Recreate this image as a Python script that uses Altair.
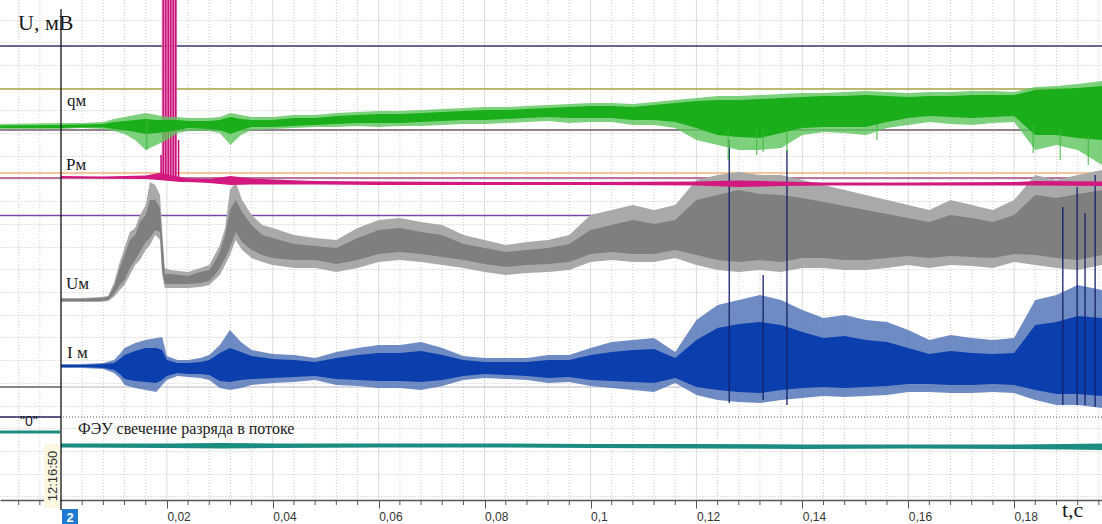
import altair as alt
import pandas as pd

# ---------------- data (t in s, U in arbitrary mV units) ----------------
green_t = [-0.0115, 0, 0.004, 0.008, 0.010, 0.012, 0.014, 0.016, 0.018, 0.020, 0.022, 0.024, 0.028, 0.030,
           0.032, 0.034, 0.036, 0.040, 0.044, 0.048, 0.052, 0.056, 0.060, 0.064, 0.068, 0.072, 0.076, 0.080,
           0.084, 0.088, 0.092, 0.096, 0.100, 0.104, 0.108, 0.112, 0.116, 0.120, 0.124, 0.128, 0.132, 0.136,
           0.140, 0.144, 0.148, 0.152, 0.156, 0.160, 0.164, 0.168, 0.172, 0.176, 0.180, 0.184, 0.188, 0.192, 0.1966]
green_hiO = [376, 377, 377, 378, 381, 383, 385, 387, 385, 383, 383, 382, 382, 383, 387, 385, 383, 383, 385, 385,
             387, 388, 389, 389, 390, 391, 392, 393, 393, 394, 395, 396, 397, 397, 396, 398, 400, 402, 404, 404,
             405, 406, 407, 407, 408, 409, 408, 407, 408, 408, 409, 409, 408, 413, 414, 416, 419]
green_loO = [371, 371, 372, 371, 369, 366, 360, 350, 355, 360, 367, 369, 369, 367, 355, 365, 370, 371, 372, 373,
             373, 374, 373, 374, 374, 375, 376, 376, 377, 378, 379, 377, 378, 378, 375, 375, 372, 360, 355, 350,
             350, 352, 365, 368, 367, 365, 372, 375, 378, 376, 375, 377, 378, 350, 355, 350, 335]
green_hiI = [374.5, 375, 375.5, 376, 378, 379, 380, 381, 380, 380, 380, 379, 379, 380, 383, 381, 380, 380, 382, 382,
             384, 385, 386, 386, 387, 388, 389, 390, 390, 391, 392, 393, 394, 394, 393, 395, 397, 399, 400, 400,
             401, 402, 403, 404, 404, 405, 404, 403, 404, 404, 405, 405, 405, 410, 411, 412, 414]
green_loI = [372, 372, 372.5, 372.5, 371, 370, 368, 366, 367, 368, 370, 372, 371, 370, 366, 370, 373, 373, 374, 375,
             376, 377, 377, 377, 378, 379, 380, 380, 381, 382, 383, 382, 382, 382, 380, 380, 378, 372, 365, 363,
             362, 367, 372, 373, 373, 373, 378, 382, 384, 383, 382, 383, 384, 365, 365, 362, 360]
green_spike_t = [0.0162, 0.126, 0.1314, 0.1326, 0.1371, 0.1541, 0.1836, 0.1887, 0.194]
green_spike_lo = [350, 340, 345, 348, 347, 360, 347, 340, 335]
green_spike_hi = [380, 370, 370, 370, 372, 375, 375, 370, 365]

mag_t = [0, 0.008, 0.016, 0.0185, 0.0225, 0.024, 0.028, 0.032, 0.036, 0.040, 0.048, 0.060, 0.080, 0.100,
         0.120, 0.128, 0.136, 0.144, 0.160, 0.180, 0.184, 0.1966]
mag_hi = [324, 323.5, 324.5, 327, 323, 321.5, 321, 324, 321.5, 320.5, 319, 318.5, 318, 318, 318.5, 319.5, 318.5, 317.5, 317.5, 318, 319, 318.5]
mag_lo = [322, 321.5, 321, 320, 318, 318, 317, 315, 315.5, 315.5, 315.5, 315, 315, 315, 314.5, 313, 314, 314.5, 314.5, 314.5, 314.5, 314]
burst_t = [0.01932, 0.01977, 0.02026, 0.02072, 0.02121, 0.02166, 0.0222, 0.0189]
burst_top = [500, 500, 500, 500, 500, 500, 360, 345]
burst_bot = [320, 320, 320, 320, 320, 320, 320, 320]
burst_span_t = [0.0190, 0.0219]
burst_span_u = [322, 500]

gray_t = [0, 0.004, 0.0074, 0.0089, 0.010, 0.0111, 0.012, 0.013, 0.014, 0.0149, 0.016, 0.0168, 0.0178, 0.0187,
          0.0191, 0.0196, 0.0206, 0.024, 0.0263, 0.028, 0.029, 0.030, 0.031, 0.0319, 0.033, 0.0342, 0.036, 0.038,
          0.040, 0.044, 0.048, 0.052, 0.056, 0.060, 0.064, 0.068, 0.072, 0.076, 0.080, 0.084, 0.088, 0.092, 0.096,
          0.100, 0.104, 0.108, 0.112, 0.116, 0.120, 0.124, 0.128, 0.132, 0.136, 0.140, 0.144, 0.148, 0.152, 0.156,
          0.160, 0.164, 0.168, 0.172, 0.176, 0.180, 0.184, 0.188, 0.192, 0.1966]
gray_hiO = [202, 202, 203, 204, 217, 238, 252, 268, 272, 285, 295, 318, 315, 305, 270, 232, 230, 228, 232, 235,
            245, 255, 272, 310, 318, 300, 285, 275, 272, 265, 262, 260, 272, 280, 282, 278, 275, 265, 260, 255,
            258, 260, 265, 285, 290, 295, 290, 295, 320, 325, 328, 325, 325, 320, 315, 310, 305, 300, 295, 290,
            300, 295, 290, 300, 325, 320, 325, 330]
gray_loO = [198, 198, 198, 199, 203, 210, 215, 225, 235, 240, 250, 255, 265, 260, 225, 212, 212, 212, 213, 215,
            220, 225, 235, 245, 260, 250, 242, 238, 235, 232, 232, 228, 232, 238, 240, 238, 235, 232, 228, 225,
            227, 228, 230, 238, 240, 238, 238, 242, 235, 230, 228, 230, 228, 232, 232, 230, 230, 232, 235, 232,
            235, 234, 232, 238, 235, 232, 230, 235]
gray_hiI = [201, 201, 202, 203, 213, 232, 245, 260, 265, 278, 285, 300, 300, 292, 262, 226, 226, 224, 228, 230,
            238, 248, 265, 290, 300, 288, 275, 265, 262, 256, 254, 252, 262, 270, 272, 268, 265, 256, 252, 248,
            250, 252, 256, 270, 275, 280, 276, 280, 300, 305, 310, 306, 305, 302, 298, 294, 290, 286, 282, 278,
            285, 282, 278, 285, 305, 302, 306, 310]
gray_loI = [199, 199, 199, 200, 206, 215, 220, 232, 240, 248, 258, 262, 270, 268, 230, 216, 216, 216, 217, 219,
            225, 232, 242, 252, 268, 258, 250, 245, 242, 240, 240, 236, 240, 246, 248, 246, 243, 240, 236, 233,
            235, 236, 238, 246, 248, 246, 246, 250, 245, 240, 238, 240, 238, 242, 242, 240, 240, 242, 244, 242,
            244, 243, 242, 246, 245, 242, 240, 245]

blue_t = [0, 0.004, 0.008, 0.010, 0.0111, 0.012, 0.014, 0.016, 0.018, 0.0191, 0.020, 0.022, 0.024, 0.0263, 0.028,
          0.030, 0.0319, 0.034, 0.036, 0.040, 0.044, 0.048, 0.052, 0.056, 0.060, 0.064, 0.068, 0.072, 0.076, 0.080,
          0.084, 0.088, 0.092, 0.096, 0.100, 0.104, 0.108, 0.112, 0.116, 0.120, 0.124, 0.128, 0.132, 0.136, 0.140,
          0.144, 0.148, 0.152, 0.156, 0.160, 0.164, 0.168, 0.172, 0.176, 0.180, 0.184, 0.188, 0.192, 0.1966]
blue_hiO = [136, 136, 137, 140, 146, 152, 157, 160, 162, 163, 144, 140, 140, 142, 145, 155, 170, 158, 150, 146,
            145, 142, 148, 152, 155, 155, 158, 152, 144, 142, 142, 142, 145, 145, 152, 158, 160, 162, 148, 180,
            195, 200, 205, 200, 190, 182, 185, 180, 178, 170, 160, 165, 162, 160, 162, 200, 205, 215, 210]
blue_loO = [132, 132, 131, 127, 122, 115, 112, 110, 108, 115, 120, 124, 123, 122, 120, 112, 110, 112, 115, 117,
            118, 120, 115, 114, 112, 112, 110, 114, 120, 122, 121, 120, 117, 118, 114, 112, 110, 108, 117, 105,
            100, 98, 97, 100, 102, 104, 103, 104, 105, 108, 108, 107, 107, 108, 107, 100, 95, 95, 92]
blue_hiI = [135, 135, 136, 137, 141, 145, 149, 152, 152, 150, 140, 137, 137, 138, 140, 147, 152, 148, 144, 141,
            140, 138, 142, 145, 147, 147, 149, 145, 140, 138, 138, 138, 140, 140, 145, 148, 150, 151, 142, 160,
            172, 176, 178, 175, 168, 162, 164, 160, 158, 152, 146, 149, 147, 146, 147, 175, 178, 184, 182]
blue_loI = [133, 133, 132, 130, 126, 121, 119, 118, 117, 120, 124, 127, 126, 126, 125, 119, 118, 120, 121, 122,
            123, 124, 121, 120, 119, 119, 118, 120, 124, 126, 125, 124, 122, 123, 120, 119, 118, 117, 122, 113,
            110, 108, 107, 110, 112, 113, 112, 113, 114, 116, 116, 115, 115, 116, 115, 110, 106, 106, 104]
blue_spike_t = [0.1262, 0.1371, 0.1326, 0.1892, 0.1919, 0.1934, 0.1953]
blue_spike_top = [360, 350, 225, 293, 313, 287, 325]
blue_spike_bot = [97, 95, 100, 95, 95, 95, 93]

teal_pre_t = [-0.0115, -0.0002]
teal_pre_hi = [69.5, 69.5]
teal_pre_lo = [66.5, 66.5]
teal_t = [0, 0.02, 0.03, 0.04, 0.06, 0.08, 0.10, 0.12, 0.14, 0.16, 0.18, 0.19, 0.1966]
teal_hi = [56.5, 56.5, 57, 56.5, 56.5, 56.5, 56, 56, 55.5, 55.5, 55.5, 56, 56.5]
teal_lo = [52.5, 52, 51.5, 52, 52.5, 52.5, 52, 51.5, 51, 51.5, 51, 50.5, 50]

ref_u = [454, 411, 370, 327, 322, 284.5]
ref_colors = ["#35356e", "#a9a445", "#6e5a68", "#f2b27e", "#a5457f", "#7d47a8"]

major_ticks = [0.02, 0.04, 0.06, 0.08, 0.10, 0.12, 0.14, 0.16, 0.18]
minor_ticks = [-0.008, -0.004, 0.004, 0.008, 0.012, 0.016, 0.024, 0.028, 0.032, 0.036, 0.044, 0.048, 0.052, 0.056,
               0.064, 0.068, 0.072, 0.076, 0.084, 0.088, 0.092, 0.096, 0.104, 0.108, 0.112, 0.116, 0.124, 0.128,
               0.132, 0.136, 0.144, 0.148, 0.152, 0.156, 0.164, 0.168, 0.172, 0.176, 0.184, 0.188, 0.192, 0.196]
hgrid_u = [480.4, 457.7, 435.0, 412.3, 389.6, 366.9, 344.2, 321.5, 298.8, 276.1, 253.4, 230.7, 208.0, 185.3,
           162.6, 139.9, 117.2, 94.5, 71.8, 49.1, 26.4, 3.7]

# ---------------- scales / encodings ----------------
T_MIN, T_MAX = -0.01152, 0.1966
W, H = 1102, 500
xs = alt.Scale(domain=[T_MIN, T_MAX], nice=False, zero=False)
ys = alt.Scale(domain=[0, 500], nice=False, zero=False)

x_axis = alt.Axis(values=major_ticks, title="", grid=False,
                  labelExpr="replace(format(datum.value, '.2~f'), '.', ',')",
                  labelAlign="left", labelBaseline="top", labelPadding=3, labelFont="Liberation Sans",
                  labelFontSize=12, labelColor="#333333", labelFlush=False, labelOverlap=False,
                  tickSize=8, tickColor="#555555", tickWidth=1, domainColor="#555555", domainWidth=1.5)
y_axis = alt.Axis(values=hgrid_u, title="", grid=True, labels=False, ticks=False, domain=False,
                  gridColor="#c4c4c4", gridDash=[1, 2], gridWidth=1)


def X(f):
    return alt.X(f, type="quantitative", scale=xs, axis=x_axis)


def Y(f):
    return alt.Y(f, type="quantitative", scale=ys, axis=y_axis)


def band(t, hi, lo, color, opacity=1.0):
    df = pd.DataFrame({"t": t, "hi": hi, "lo": lo})
    return alt.Chart(df).mark_area(color=color, opacity=opacity, interpolate="linear").encode(
        x=X("t"), y=Y("hi"), y2=alt.Y2("lo"))


def spikes(t, top, bot, color, width):
    df = pd.DataFrame({"t": t, "top": top, "bot": bot})
    return alt.Chart(df).mark_rule(color=color, strokeWidth=width).encode(
        x=X("t"), y=Y("top"), y2=alt.Y2("bot"))


def label(txt, x, y, size, font="Liberation Serif", color="#1a1a1a", **kw):
    return alt.Chart(pd.DataFrame({"s": [txt]})).mark_text(
        font=font, fontSize=size, color=color, **kw).encode(
        x=alt.value(x), y=alt.value(y), text="s:N")


def hline(u, color, width=1.3, dash=None, t0=None, t1=None):
    df = pd.DataFrame({"u": [u], "t0": [t0 if t0 is not None else T_MIN],
                       "t1": [t1 if t1 is not None else T_MAX]})
    kw = {"color": color, "strokeWidth": width}
    if dash is not None:
        kw["strokeDash"] = dash
    return alt.Chart(df).mark_rule(**kw).encode(x=X("t0"), x2=alt.X2("t1"), y=Y("u"))


layers = []

# grid (vertical)
layers.append(alt.Chart(pd.DataFrame({"t": minor_ticks})).mark_rule(
    color="#cdcdcd", strokeDash=[1, 2], strokeWidth=1).encode(x=X("t")))
layers.append(alt.Chart(pd.DataFrame({"t": major_ticks})).mark_rule(
    color="#dadada", strokeWidth=1).encode(x=X("t")))
# minor ticks on the time axis
layers.append(alt.Chart(pd.DataFrame({"t": minor_ticks})).mark_rule(
    color="#555555", strokeWidth=1).encode(x=X("t"), y=alt.value(500), y2=alt.value(505)))

# reference lines
for u, c in zip(ref_u, ref_colors):
    layers.append(hline(u, c))
layers.append(hline(113, "#bdb4c6", 1.0))
layers.append(hline(83, "#555566", 1.2, dash=[1, 2]))
layers.append(hline(113, "#6a6a6a", 1.5, t1=0.0))
layers.append(hline(83, "#2a2a6a", 1.5, t1=0.0))

# traces
layers.append(band(teal_pre_t, teal_pre_hi, teal_pre_lo, "#1a8c80"))
layers.append(band(teal_t, teal_hi, teal_lo, "#1a8c80"))
layers.append(band(blue_t, blue_hiO, blue_loO, "#5677b8", 0.85))
layers.append(band(blue_t, blue_hiI, blue_loI, "#0c3fae"))
layers.append(band(gray_t, gray_hiO, gray_loO, "#a9a9a9"))
layers.append(band(gray_t, gray_hiI, gray_loI, "#7f7f7f"))
layers.append(spikes(blue_spike_t, blue_spike_top, blue_spike_bot, "#15206a", 1.3))
burst_df = pd.DataFrame({"t0": [burst_span_t[0]], "t1": [burst_span_t[1]],
                         "u0": [burst_span_u[0]], "u1": [burst_span_u[1]]})
layers.append(alt.Chart(burst_df).mark_rect(color="#ee8ec4", opacity=0.85).encode(
    x=X("t0"), x2=alt.X2("t1"), y=Y("u0"), y2=alt.Y2("u1")))
layers.append(spikes(burst_t, burst_top, burst_bot, "#c7127a", 1.6))
layers.append(band(mag_t, mag_hi, mag_lo, "#d3197f"))
layers.append(band(green_t, green_hiO, green_loO, "#5cc65c", 0.8))
layers.append(band(green_t, green_hiI, green_loI, "#1aae1a"))
layers.append(spikes(green_spike_t, green_spike_hi, green_spike_lo, "#3cb83c", 1.0))

# vertical value axis line at t = 0
layers.append(alt.Chart(pd.DataFrame({"t": [0.0]})).mark_rule(color="#111111", strokeWidth=1.3).encode(
    x=X("t"), y=alt.value(9), y2=alt.value(510)))

# time stamp box and channel box
layers.append(alt.Chart(pd.DataFrame({"s": ["bg"]})).mark_rect(color="#fbf8e2").encode(
    x=alt.value(44), x2=alt.value(60), y=alt.value(444), y2=alt.value(508)))
layers.append(alt.Chart(pd.DataFrame({"s": ["box"]})).mark_rect(color="#1f7bd0").encode(
    x=alt.value(62), x2=alt.value(78), y=alt.value(509), y2=alt.value(524)))

# texts
layers.append(label("U, мВ", 18, 30, 22, align="left", baseline="alphabetic"))
layers.append(label("qм", 67, 106, 17, align="left", baseline="alphabetic"))
layers.append(label("Pм", 66, 170, 17, align="left", baseline="alphabetic"))
layers.append(label("Uм", 66, 289, 17, align="left", baseline="alphabetic"))
layers.append(label("I м", 67, 358, 17, align="left", baseline="alphabetic"))
layers.append(label("ФЭУ свечение разряда в потоке", 78, 434, 16, align="left", baseline="alphabetic"))
layers.append(label('"0"', 20, 426, 14, font="Liberation Sans", align="left", baseline="alphabetic"))
layers.append(label("12:16:50", 53, 476, 13, font="Liberation Sans", color="#333333",
                    align="center", baseline="middle", angle=270))
layers.append(label("t,c", 1062, 517, 22, align="left", baseline="alphabetic"))
layers.append(label("2", 70, 522, 13, font="Liberation Sans", color="#ffffff",
                    align="center", baseline="alphabetic", fontWeight="bold"))

chart = alt.layer(*layers).properties(
    width=W, height=H,
    padding={"left": 0, "right": 0, "top": 0, "bottom": 24},
    autosize=alt.AutoSizeParams(type="none"),
    background="#ffffff",
).configure_view(strokeWidth=0)

chart.save("out.html", embed_options={"renderer": "svg", "actions": False})
